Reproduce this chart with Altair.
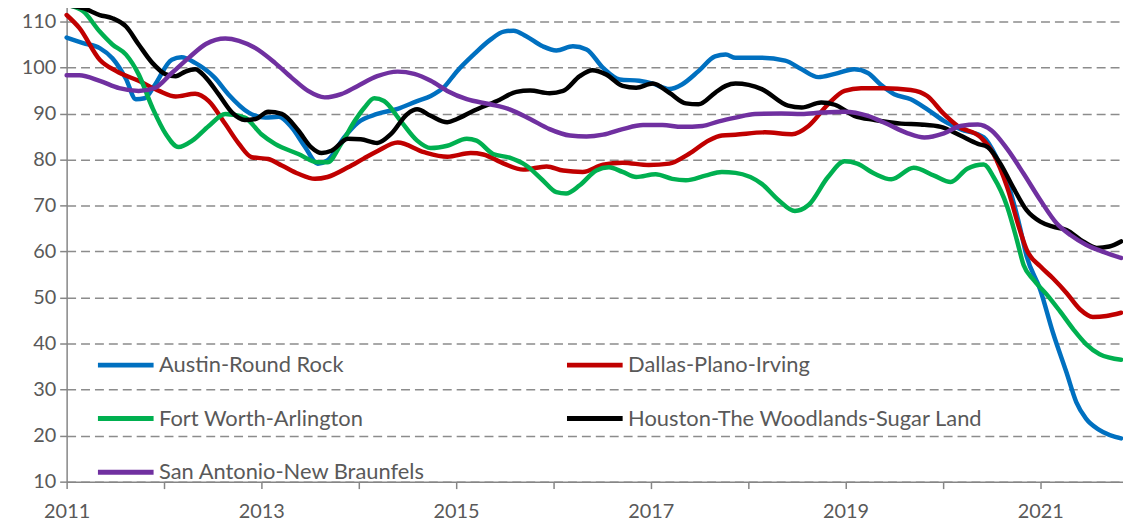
import altair as alt
import pandas as pd

series_names = ["Austin-Round Rock", "Dallas-Plano-Irving", "Fort Worth-Arlington",
                "Houston-The Woodlands-Sugar Land", "San Antonio-New Braunfels"]
series_colors = ["#0070C0", "#C00000", "#00B050", "#000000", "#7030A0"]

austin_x = [2011.00, 2011.17, 2011.34, 2011.47, 2011.61, 2011.71, 2011.80, 2011.90, 2012.08, 2012.18,
            2012.32, 2012.52, 2012.66, 2012.87, 2013.04, 2013.18, 2013.31, 2013.45, 2013.58, 2013.68,
            2013.85, 2013.99, 2014.19, 2014.40, 2014.60, 2014.74, 2014.87, 2015.01, 2015.18, 2015.35,
            2015.49, 2015.59, 2015.72, 2015.89, 2016.03, 2016.20, 2016.34, 2016.51, 2016.68, 2016.88,
            2017.02, 2017.19, 2017.32, 2017.49, 2017.66, 2017.77, 2017.87, 2018.14, 2018.38, 2018.55,
            2018.72, 2018.89, 2019.09, 2019.23, 2019.36, 2019.50, 2019.67, 2019.84, 2020.01, 2020.18,
            2020.42, 2020.55, 2020.69, 2020.79, 2020.86, 2021.00, 2021.13, 2021.27, 2021.37, 2021.47,
            2021.61, 2021.83]
austin_y = [106.5, 105.3, 104.2, 102.0, 97.5, 93.1, 93.3, 96.0, 101.7, 102.2,
            101.0, 97.8, 94.2, 90.2, 89.1, 89.3, 87.0, 82.7, 79.1, 79.8,
            84.8, 88.0, 89.9, 91.0, 92.7, 93.8, 95.6, 99.2, 102.8, 106.0,
            107.8, 108.0, 106.8, 104.6, 103.7, 104.6, 103.9, 99.9, 97.4, 97.1,
            96.5, 95.3, 96.3, 99.2, 102.4, 102.8, 102.1, 102.1, 101.5, 99.6,
            97.9, 98.6, 99.6, 98.8, 96.3, 94.2, 93.1, 90.9, 88.4, 86.6,
            84.8, 80.5, 73.3, 65.4, 59.0, 51.7, 42.4, 33.7, 27.3, 23.7,
            21.2, 19.4]

dallas_x = [2011.00, 2011.13, 2011.34, 2011.51, 2011.74, 2011.95, 2012.12, 2012.32, 2012.46, 2012.63,
            2012.77, 2012.90, 2013.07, 2013.21, 2013.38, 2013.55, 2013.68, 2013.89, 2014.05, 2014.19,
            2014.40, 2014.67, 2014.91, 2015.15, 2015.28, 2015.49, 2015.69, 2015.93, 2016.10, 2016.30,
            2016.51, 2016.71, 2016.98, 2017.19, 2017.39, 2017.60, 2017.73, 2017.87, 2018.17, 2018.45,
            2018.62, 2018.82, 2018.99, 2019.16, 2019.40, 2019.67, 2019.84, 2020.01, 2020.15, 2020.39,
            2020.52, 2020.66, 2020.79, 2020.86, 2021.00, 2021.13, 2021.27, 2021.41, 2021.54, 2021.68,
            2021.83]
dallas_y = [111.4, 108.6, 101.7, 99.2, 97.1, 94.9, 93.7, 94.3, 92.7, 87.7,
            83.4, 80.5, 80.1, 78.7, 76.9, 75.8, 76.2, 78.3, 80.2, 81.8,
            83.7, 81.6, 80.6, 81.4, 81.1, 79.1, 77.8, 78.5, 77.6, 77.3,
            78.9, 79.3, 78.8, 79.1, 81.2, 84.2, 85.2, 85.4, 85.9, 85.5,
            87.3, 92.0, 94.9, 95.5, 95.5, 95.1, 93.8, 89.9, 87.3, 84.8,
            81.2, 74.0, 64.7, 60.4, 56.8, 54.2, 51.0, 47.4, 45.8, 46.0,
            46.7]

fortworth_x = [2011.00, 2011.17, 2011.34, 2011.47, 2011.61, 2011.74, 2011.88, 2012.02, 2012.15, 2012.29,
               2012.46, 2012.63, 2012.83, 2013.00, 2013.14, 2013.38, 2013.58, 2013.68, 2013.82, 2013.96,
               2014.06, 2014.16, 2014.26, 2014.43, 2014.60, 2014.74, 2014.91, 2015.11, 2015.21, 2015.38,
               2015.55, 2015.72, 2015.89, 2016.03, 2016.13, 2016.27, 2016.44, 2016.57, 2016.71, 2016.85,
               2017.05, 2017.22, 2017.36, 2017.56, 2017.73, 2017.87, 2018.14, 2018.31, 2018.48, 2018.62,
               2018.82, 2018.99, 2019.12, 2019.30, 2019.47, 2019.70, 2019.91, 2020.08, 2020.25, 2020.42,
               2020.52, 2020.66, 2020.76, 2020.83, 2020.93, 2021.07, 2021.20, 2021.34, 2021.47, 2021.61,
               2021.83]
fortworth_y = [113.6, 112.2, 107.8, 105.0, 102.8, 98.5, 91.3, 85.5, 82.7, 84.1,
               87.3, 89.9, 89.1, 85.5, 83.4, 81.2, 79.4, 79.4, 83.4, 88.4,
               91.3, 93.3, 92.7, 88.4, 84.1, 82.5, 83.0, 84.5, 84.1, 81.2,
               80.4, 78.7, 75.5, 72.9, 72.6, 74.4, 77.6, 78.3, 77.3, 76.2,
               76.8, 75.8, 75.5, 76.5, 77.3, 77.1, 74.7, 71.2, 68.8, 70.1,
               76.2, 79.6, 79.1, 76.9, 75.7, 78.2, 76.5, 75.1, 78.0, 78.9,
               76.2, 69.8, 62.5, 57.0, 53.9, 50.6, 47.1, 43.1, 39.9, 37.7,
               36.5]

houston_x = [2011.00, 2011.17, 2011.34, 2011.47, 2011.61, 2011.74, 2011.88, 2012.02, 2012.12, 2012.22,
             2012.32, 2012.43, 2012.56, 2012.70, 2012.83, 2012.94, 2013.07, 2013.21, 2013.38, 2013.51,
             2013.62, 2013.72, 2013.89, 2014.02, 2014.19, 2014.33, 2014.50, 2014.60, 2014.74, 2014.91,
             2015.01, 2015.18, 2015.42, 2015.62, 2015.76, 2015.96, 2016.10, 2016.27, 2016.40, 2016.54,
             2016.71, 2016.85, 2017.02, 2017.19, 2017.36, 2017.49, 2017.66, 2017.77, 2017.87, 2018.14,
             2018.41, 2018.55, 2018.75, 2018.89, 2019.09, 2019.30, 2019.57, 2019.77, 2019.98, 2020.18,
             2020.36, 2020.46, 2020.59, 2020.72, 2020.86, 2021.00, 2021.13, 2021.27, 2021.44, 2021.58,
             2021.71, 2021.83]
houston_y = [113.5, 112.9, 111.4, 110.7, 108.9, 105.0, 101.0, 98.5, 98.1, 99.1,
             99.6, 97.8, 94.2, 90.2, 88.6, 88.8, 90.4, 89.9, 86.3, 82.7,
             81.4, 81.9, 84.5, 84.4, 83.6, 85.5, 89.9, 90.9, 89.5, 88.1,
             88.8, 90.6, 92.7, 94.7, 95.0, 94.4, 94.9, 98.1, 99.4, 98.5,
             96.0, 95.6, 96.5, 94.5, 92.2, 92.0, 94.5, 96.0, 96.5, 95.3,
             91.7, 91.3, 92.4, 91.9, 89.5, 88.6, 87.8, 87.6, 87.1, 85.2,
             83.4, 82.7, 79.1, 74.0, 69.0, 66.5, 65.4, 64.7, 62.2, 60.8,
             61.1, 62.2]

sanantonio_x = [2011.00, 2011.13, 2011.34, 2011.54, 2011.74, 2011.91, 2012.08, 2012.26, 2012.43, 2012.63,
                2012.77, 2012.94, 2013.14, 2013.31, 2013.48, 2013.65, 2013.82, 2013.99, 2014.19, 2014.40,
                2014.57, 2014.74, 2014.91, 2015.11, 2015.35, 2015.55, 2015.76, 2015.96, 2016.17, 2016.34,
                2016.51, 2016.71, 2016.92, 2017.12, 2017.32, 2017.53, 2017.70, 2017.87, 2018.07, 2018.34,
                2018.55, 2018.75, 2018.99, 2019.23, 2019.43, 2019.64, 2019.81, 2020.01, 2020.18, 2020.36,
                2020.50, 2020.66, 2020.83, 2021.00, 2021.17, 2021.31, 2021.47, 2021.64, 2021.83]
sanantonio_y = [98.3, 98.3, 97.1, 95.5, 94.9, 95.6, 98.8, 102.2, 105.1, 106.3,
                105.8, 104.2, 101.0, 97.8, 94.9, 93.5, 94.2, 96.0, 98.1, 99.1,
                98.6, 97.1, 94.9, 93.1, 92.0, 90.9, 88.8, 86.6, 85.2, 85.0,
                85.4, 86.6, 87.5, 87.5, 87.1, 87.3, 88.3, 89.1, 89.9, 90.0,
                89.9, 90.2, 90.4, 89.5, 87.7, 85.7, 84.8, 85.7, 87.3, 87.6,
                86.3, 82.3, 76.9, 71.2, 66.1, 63.6, 61.5, 60.0, 58.6]

y_ticks = [10, 20, 30, 40, 50, 60, 70, 80, 90, 100, 110]
x_ticks = [2011, 2012, 2013, 2014, 2015, 2016, 2017, 2018, 2019, 2020, 2021]

all_x = [austin_x, dallas_x, fortworth_x, houston_x, sanantonio_x]
all_y = [austin_y, dallas_y, fortworth_y, houston_y, sanantonio_y]
frames = []
for i, (name, xs, ys) in enumerate(zip(series_names, all_x, all_y)):
    frames.append(pd.DataFrame({"year": xs, "value": ys, "series": name, "order": i}))
df = pd.concat(frames, ignore_index=True)

FONT = "Lato"
TXT = "#595959"
AXC = "#868686"

chart = alt.Chart(df).mark_line(
    strokeWidth=4.5, interpolate="monotone", strokeCap="round", strokeJoin="round"
).encode(
    x=alt.X("year:Q",
            scale=alt.Scale(domain=[2011, 2021.85], nice=False, zero=False),
            axis=alt.Axis(values=x_ticks, labelExpr="datum.value % 2 == 1 ? toString(datum.value) : ''",
                          grid=False, title=None, tickSize=7, tickColor=AXC, tickWidth=1.5,
                          domainColor=AXC, domainWidth=1.5, labelPadding=13,
                          labelFontSize=20, labelColor=TXT, labelFont=FONT, labelFlush=False)),
    y=alt.Y("value:Q",
            scale=alt.Scale(domain=[10, 114.3], nice=False, zero=False),
            axis=alt.Axis(values=y_ticks, grid=True, gridDash=[9, 5], gridColor="#8c8c8c",
                          gridWidth=1.5, title=None, tickSize=7, tickColor=AXC, tickWidth=1.5,
                          domainColor=AXC, domainWidth=1.5, labelPadding=4,
                          labelFontSize=20, labelColor=TXT, labelFont=FONT)),
    color=alt.Color("series:N",
                    scale=alt.Scale(domain=series_names, range=series_colors),
                    legend=alt.Legend(title=None, orient="none", legendX=29, legendY=335,
                                      columns=2, direction="horizontal",
                                      symbolType="stroke", symbolSize=3136,
                                      symbolStrokeWidth=5, labelOffset=3, columnPadding=132,
                                      rowPadding=12, labelFontSize=22, labelColor=TXT,
                                      labelFont=FONT, labelLimit=0)),
    order=alt.Order("order:Q"),
).properties(
    width=1063, height=483,
    autosize=alt.AutoSizeParams(type="none"),
    padding={"left": 59, "top": -8, "right": 0, "bottom": 42},
).configure_view(stroke=None)

chart.save("out.html", embed_options={"renderer": "svg", "actions": False})
